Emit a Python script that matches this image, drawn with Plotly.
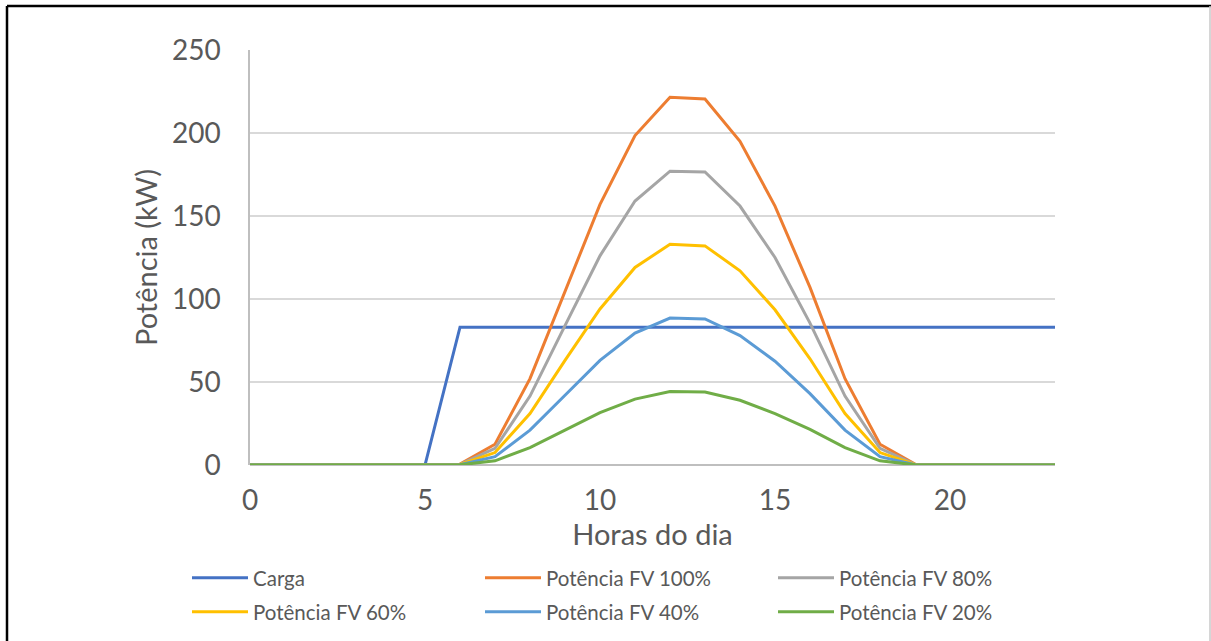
import plotly.graph_objects as go

hours = list(range(24))
carga = [0, 0, 0, 0, 0, 0, 83, 83, 83, 83, 83, 83, 83, 83, 83, 83, 83, 83, 83, 83, 83, 83, 83, 83]
fv100 = [0, 0, 0, 0, 0, 0, 0.5, 12.5, 52, 105, 157, 198.5, 221.5, 220.5, 195, 156, 107, 52, 12.5, 0.5, 0, 0, 0, 0]
fv80 = [0, 0, 0, 0, 0, 0, 0.4, 10, 41.5, 84, 126, 159, 177, 176.5, 156, 125, 85.5, 41.5, 10, 0.4, 0, 0, 0, 0]
fv60 = [0, 0, 0, 0, 0, 0, 0.3, 7.5, 31, 63, 94, 119, 133, 132, 117, 93.5, 64, 31, 7.5, 0.3, 0, 0, 0, 0]
fv40 = [0, 0, 0, 0, 0, 0, 0.2, 5, 21, 42, 63, 79.5, 88.5, 88, 78, 62.5, 43, 21, 5, 0.2, 0, 0, 0, 0]
fv20 = [0, 0, 0, 0, 0, 0, 0.1, 2.5, 10.5, 21, 31.5, 39.7, 44.3, 44, 39, 31, 21.5, 10.5, 2.5, 0.1, 0, 0, 0, 0]

names = ["Carga", "Potência FV 100%", "Potência FV 80%",
         "Potência FV 60%", "Potência FV 40%", "Potência FV 20%"]
values = [carga, fv100, fv80, fv60, fv40, fv20]
colors = ["#4472C4", "#ED7D31", "#A5A5A5", "#FFC000", "#5B9BD5", "#70AD47"]

FONT = "Lato, 'Open Sans', sans-serif"
GREY = "#595959"

W, H = 1211, 641
L, R, T, B = 250, 156, 50, 176
pw, ph = W - L - R, H - T - B

def px(x):
    return (x - L) / pw

def py(y):
    return (H - B - y) / ph

# legend grid (3 columns x 2 rows), pixel anchors
leg_cols = [187, 480, 773]
leg_rows = [578, 612]

fig = go.Figure()
legends = {}
for i, (name, vals, color) in enumerate(zip(names, values, colors)):
    lid = "legend" if i == 0 else f"legend{i + 1}"
    fig.add_trace(go.Scatter(x=hours, y=vals, name=name, mode="lines",
                             line=dict(color=color, width=3), legend=lid))
    legends[lid] = dict(orientation="h", x=px(leg_cols[i % 3]), xanchor="left",
                        y=py(leg_rows[i // 3]), yanchor="middle",
                        font=dict(family=FONT, size=20.5, color=GREY),
                        itemwidth=56, bgcolor="rgba(0,0,0,0)")

fig.update_layout(
    width=W, height=H,
    margin=dict(l=L, r=R, t=T, b=B, autoexpand=False),
    paper_bgcolor="white", plot_bgcolor="white",
    font=dict(family=FONT, color=GREY),
    xaxis=dict(range=[0, 23], tickvals=[0, 5, 10, 15, 20], showgrid=False,
               zeroline=False, showline=False, ticks="", automargin=False,
               ticklabelstandoff=16,
               tickfont=dict(family=FONT, size=28, color=GREY),
               title=dict(text="Horas do dia", font=dict(family=FONT, size=29, color=GREY), standoff=3)),
    yaxis=dict(range=[0, 250], tickvals=[0, 50, 100, 150, 200, 250], showgrid=True,
               gridcolor="#D9D9D9", gridwidth=1.5, zeroline=True, zerolinecolor="#BFBFBF",
               zerolinewidth=1.5, automargin=False,
               showline=True, linecolor="#BFBFBF", linewidth=1.5, ticks="",
               ticklabelstandoff=22,
               tickfont=dict(family=FONT, size=28, color=GREY),
               title=dict(text="Potência (kW)", font=dict(family=FONT, size=29, color=GREY), standoff=6)),
    showlegend=True,
    **legends,
)

# outer chart border
fig.add_shape(type="line", xref="paper", yref="paper", x0=px(7), x1=px(1211), y0=py(6), y1=py(6),
              line=dict(color="black", width=2.5))
fig.add_shape(type="line", xref="paper", yref="paper", x0=px(7), x1=px(7), y0=py(6), y1=py(641),
              line=dict(color="black", width=2.5))
fig.add_shape(type="line", xref="paper", yref="paper", x0=px(1210), x1=px(1210), y0=py(6), y1=py(641),
              line=dict(color="#C8C8C8", width=1.5))

fig.write_html("out.html", config={"displayModeBar": False},
               post_script="document.body.style.margin='0';")
